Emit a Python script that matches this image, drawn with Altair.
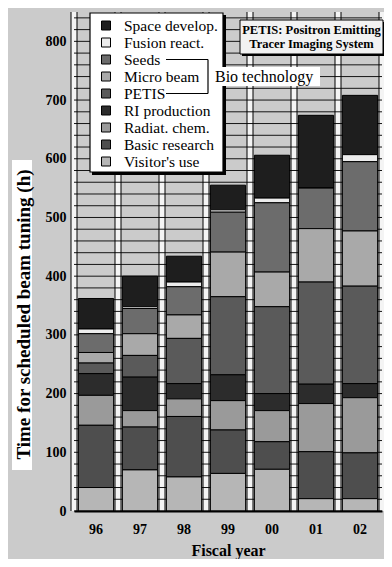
import altair as alt
import pandas as pd

years = ["96", "97", "98", "99", "00", "01", "02"]
categories = ["Space develop.", "Fusion react.", "Seeds", "Micro beam", "PETIS",
              "RI production", "Radiat. chem.", "Basic research", "Visitor's use"]
space = [52, 52, 44, 42, 73, 124, 101]
fusion = [8, 3, 8, 4, 8, 0, 12]
seeds = [32, 43, 48, 68, 118, 69, 118]
micro = [18, 37, 40, 76, 59, 91, 94]
petis = [18, 37, 77, 133, 148, 174, 166]
ri_prod = [37, 57, 26, 44, 29, 33, 24]
radiat = [51, 28, 30, 50, 53, 82, 94]
basic = [106, 73, 103, 74, 47, 80, 78]
visitor = [40, 70, 58, 64, 71, 21, 21]
y_ticks = [0, 100, 200, 300, 400, 500, 600, 700, 800]

series = [space, fusion, seeds, micro, petis, ri_prod, radiat, basic, visitor]
grays = ["#1e1e1e", "#ececec", "#6c6c6c", "#a9a9a9", "#5a5a5a",
         "#2c2c2c", "#9a9a9a", "#4e4e4e", "#b6b6b6"]

rows = []
for ci, (cat, vals) in enumerate(zip(categories, series)):
    for y, v in zip(years, vals):
        rows.append({"year": y, "category": cat, "value": v,
                     "stack": len(categories) - 1 - ci})
df = pd.DataFrame(rows)

W, H = 308, 499
YMAX = 850
serif = "Liberation Serif"

bdf = pd.DataFrame({"b": list(range(len(years) + 1))})
gdf = pd.DataFrame({"lev": list(range(0, YMAX + 1, 20))})
ldf = pd.DataFrame({"category": categories, "idx": list(range(len(categories)))})
one = pd.DataFrame({"a": [0]})

xq = alt.Scale(domain=[0, len(years)], nice=False, zero=False)
ys = alt.Scale(domain=[0, YMAX], nice=False)
cs = alt.Scale(domain=categories, range=grays)

strips = alt.Chart(bdf).mark_rule(color="#f4f4f4", strokeWidth=6).encode(
    x=alt.X("b:Q", scale=xq, axis=None))
grid = alt.Chart(gdf).mark_rule(color="#151515", strokeWidth=1).encode(
    y=alt.Y("lev:Q", scale=ys, axis=None))
edge_l = alt.Chart(bdf).mark_rule(color="black", strokeWidth=1, xOffset=-3).encode(
    x=alt.X("b:Q", scale=xq, axis=None))
edge_r = alt.Chart(bdf).mark_rule(color="black", strokeWidth=1, xOffset=3).encode(
    x=alt.X("b:Q", scale=xq, axis=None))

bars = alt.Chart(df).mark_bar(stroke="black", strokeWidth=1).encode(
    x=alt.X("year:N", sort=years,
            scale=alt.Scale(paddingInner=0.2, paddingOuter=0.1),
            axis=alt.Axis(title="Fiscal year", labelAngle=0, tickSize=0,
                          labelPadding=11, titlePadding=6, domainColor="black",
                          domainWidth=2, zindex=1, titleFontSize=16)),
    y=alt.Y("value:Q", stack="zero", scale=ys,
            axis=alt.Axis(title="Time for scheduled beam tuning (h)", values=y_ticks,
                          grid=False, domain=False, tickSize=0, labelPadding=8,
                          titlePadding=12, zindex=1, titleFontSize=19, titleY=302)),
    color=alt.Color("category:N", scale=cs, legend=None),
    order=alt.Order("stack:Q", sort="ascending"),
)

# y-title white backing
ytbg = alt.Chart(one).mark_rect(color="white").encode(
    x=alt.value(-62), x2=alt.value(-42), y=alt.value(148), y2=alt.value(458))

# manual legend
lshadow = alt.Chart(one).mark_rect(color="black").encode(
    x=alt.value(18), x2=alt.value(152), y=alt.value(3), y2=alt.value(163))
lbox = alt.Chart(one).mark_rect(fill="white", stroke="black", strokeWidth=1.2).encode(
    x=alt.value(16), x2=alt.value(149), y=alt.value(1), y2=alt.value(160))
ly = alt.Scale(domain=[0, len(categories) - 1], range=[13.5, 149.5])
lsym = alt.Chart(ldf).mark_square(size=81, stroke="black", strokeWidth=1, opacity=1).encode(
    x=alt.value(32), y=alt.Y("idx:Q", scale=ly, axis=None),
    color=alt.Color("category:N", scale=cs, legend=None))
ltxt = alt.Chart(ldf).mark_text(align="left", baseline="middle", font=serif,
                                fontSize=15.5, color="black").encode(
    x=alt.value(50), y=alt.Y("idx:Q", scale=ly, axis=None), text="category:N")

bra1 = alt.Chart(one).mark_rule(color="black", strokeWidth=1.2).encode(
    x=alt.value(92), x2=alt.value(134), y=alt.value(47.5))
bra2 = alt.Chart(one).mark_rule(color="black", strokeWidth=1.2).encode(
    x=alt.value(92), x2=alt.value(134), y=alt.value(81.5))
bra3 = alt.Chart(one).mark_rule(color="black", strokeWidth=1.2).encode(
    x=alt.value(134), y=alt.value(47.5), y2=alt.value(81.5))
biobg = alt.Chart(one).mark_rect(color="white").encode(
    x=alt.value(139), x2=alt.value(246), y=alt.value(55), y2=alt.value(74))
biotxt = alt.Chart(pd.DataFrame({"t": ["Bio technology"]})).mark_text(
    align="left", baseline="middle", font=serif, fontSize=16, color="black").encode(
    x=alt.value(141), y=alt.value(65), text="t:N")

pshadow = alt.Chart(one).mark_rect(color="black").encode(
    x=alt.value(168), x2=alt.value(311), y=alt.value(10), y2=alt.value(44))
pbox = alt.Chart(one).mark_rect(fill="#f2f2f2", stroke="black", strokeWidth=1).encode(
    x=alt.value(166), x2=alt.value(309), y=alt.value(8), y2=alt.value(42))
ptxt = alt.Chart(pd.DataFrame({"t": ["PETIS: Positron Emitting", "Tracer Imaging System"],
                               "r": [0, 1]})).mark_text(
    align="center", baseline="middle", font=serif, fontSize=12.5, fontWeight="bold",
    color="black").encode(
    x=alt.value(237.5),
    y=alt.Y("r:Q", scale=alt.Scale(domain=[0, 1], range=[18, 32]), axis=None),
    text="t:N")

chart = alt.layer(
    strips, grid, edge_l, edge_r, bars, ytbg,
    lshadow, lbox, lsym, ltxt, bra1, bra2, bra3, biobg, biotxt,
    pshadow, pbox, ptxt,
).resolve_scale(x="independent", y="independent").properties(
    width=W, height=H,
    autosize=alt.AutoSizeParams(type="none"),
    padding={"left": 66, "top": 4, "right": 2, "bottom": 48},
    background="#cbcbcb",
).configure_view(fill="#cbcbcb", stroke=None).configure_axis(
    labelFont=serif, labelFontSize=14, labelFontWeight="bold", labelColor="black",
    titleFont=serif, titleFontWeight="bold", titleColor="black",
)

chart.save("out.html", embed_options={"renderer": "svg", "actions": False})
